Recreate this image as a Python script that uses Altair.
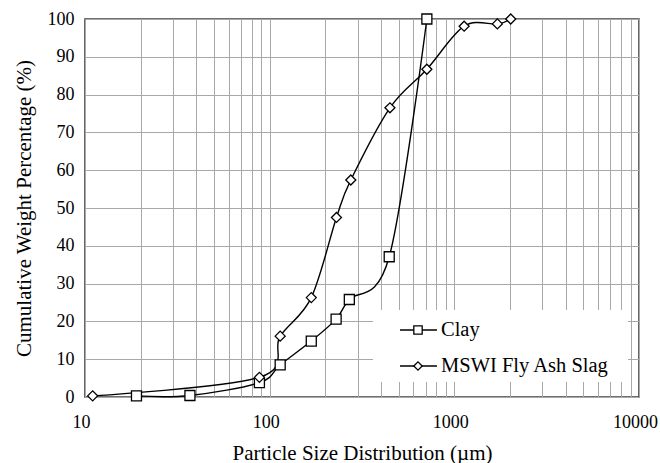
import altair as alt
import pandas as pd

# Cumulative particle size distribution (size in µm, cumulative weight %)
clay_size = [19, 37, 88, 114, 168, 229, 270, 444, 710]
clay_pct = [0.3, 0.4, 3.8, 8.5, 14.8, 20.6, 25.8, 37.1, 100]

slag_size = [11, 88, 114, 168, 230, 275, 448, 710, 1130, 1710, 2020]
slag_pct = [0.3, 5.2, 16.1, 26.3, 47.5, 57.4, 76.5, 86.7, 98.1, 98.7, 100]

series_names = ["Clay", "MSWI Fly Ash Slag"]
series_shapes = ["square", "diamond"]

x_labels = [10, 100, 1000, 10000]
x_grid = [m * 10 ** e for e in range(1, 4) for m in range(1, 10)] + [10000]
y_ticks = list(range(0, 101, 10))

FONT = "'Liberation Serif', 'Times New Roman', Times, serif"
W, H = 554, 378

df = pd.concat([
    pd.DataFrame({"size": clay_size, "pct": clay_pct, "series": series_names[0]}),
    pd.DataFrame({"size": slag_size, "pct": slag_pct, "series": series_names[1]}),
])

label_test = " || ".join(f"datum.value == {v}" for v in x_labels)

x_enc = alt.X(
    "size:Q",
    scale=alt.Scale(type="log", domain=[10, 10000], nice=False),
    axis=alt.Axis(
        title="Particle Size Distribution (µm)",
        values=x_grid,
        labelExpr=f"({label_test}) ? format(datum.value, 'd') : ''",
        ticks=False,
        domain=False,
        labelPadding=16,
        labelOffset=-4,
        labelFontSize=18,
        labelFont=FONT,
        titleFont=FONT,
        titleFontSize=21,
        titleFontWeight="normal",
        titlePadding=11,
        labelFlush=False,
        labelOverlap=False,
    ),
)
y_enc = alt.Y(
    "pct:Q",
    scale=alt.Scale(domain=[0, 100], nice=False),
    axis=alt.Axis(
        title="Cumulative Weight Percentage (%)",
        values=y_ticks,
        ticks=False,
        domain=False,
        labelPadding=11,
        labelFontSize=18,
        labelFont=FONT,
        titleFont=FONT,
        titleFontSize=21,
        titleFontWeight="normal",
        titlePadding=13,
        labelOverlap=False,
    ),
)

shape_scale = alt.Scale(domain=series_names, range=series_shapes)

lines = alt.Chart(df).mark_line(
    interpolate="cardinal", color="black", strokeWidth=1.4
).encode(x=x_enc, y=y_enc, detail="series:N")

points = alt.Chart(df).mark_point(
    filled=True, fill="white", stroke="black", strokeWidth=1.3, size=100, opacity=1
).encode(
    x=x_enc,
    y=y_enc,
    shape=alt.Shape("series:N", scale=shape_scale, legend=None),
)

# Legend panel drawn inside the plot area
one = pd.DataFrame({"k": [0]})
legend_bg = alt.Chart(one).mark_rect(fill="white").encode(
    x=alt.value(288), x2=alt.value(543), y=alt.value(291), y2=alt.value(363)
)
legend_layers = [legend_bg]
for i, (name, shp) in enumerate(zip(series_names, series_shapes)):
    ly = 311 + i * 36
    legend_layers.append(
        alt.Chart(one).mark_rule(color="black", strokeWidth=1.3).encode(
            x=alt.value(315), x2=alt.value(352), y=alt.value(ly)
        )
    )
    legend_layers.append(
        alt.Chart(one).mark_point(
            shape=shp, filled=True, fill="white", stroke="black",
            strokeWidth=1.3, size=70, opacity=1
        ).encode(x=alt.value(333), y=alt.value(ly))
    )
    legend_layers.append(
        alt.Chart(one).mark_text(
            text=name, align="left", baseline="middle", font=FONT,
            fontSize=20.5, color="black"
        ).encode(x=alt.value(356), y=alt.value(ly))
    )

chart = alt.layer(lines, points, *legend_layers).properties(
    width=W,
    height=H,
    autosize=alt.AutoSizeParams(type="none"),
    padding={"left": 85, "top": 19, "right": 21, "bottom": 66},
).configure(
    font=FONT,
    background="white",
).configure_view(
    stroke="#404040", strokeWidth=1.6
).configure_axis(
    gridColor="#a8a8a8",
    gridWidth=1,
    gridOpacity=1,
    labelColor="black",
    titleColor="black",
)

chart.save("out.html", embed_options={"renderer": "svg", "actions": False})
